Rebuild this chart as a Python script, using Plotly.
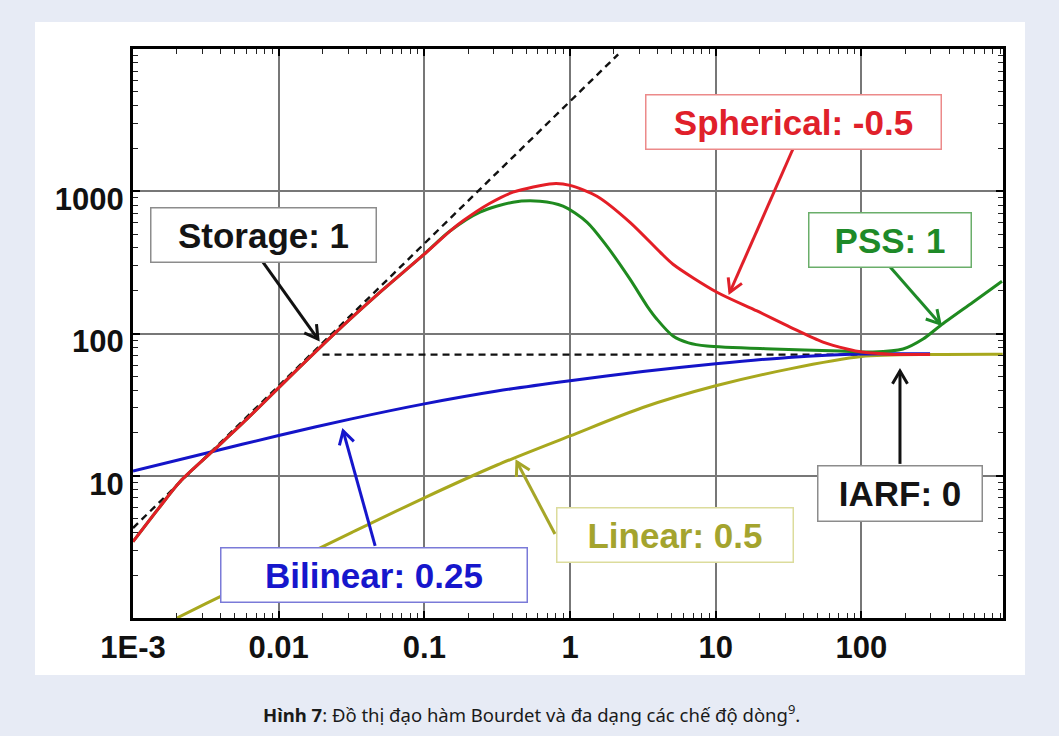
import math
import plotly.graph_objects as go

# Bourdet derivative curves (time, derivative)
spherical_t = [0.001, 0.0015, 0.0021, 0.00355, 0.00607, 0.0125, 0.025, 0.0497, 0.098, 0.15,
               0.1845, 0.28, 0.406, 0.764, 1.0, 1.53, 2.58, 4.15, 5.09, 10.2, 19.2, 32.4, 54.5,
               79.6, 101, 165, 296]
spherical_d = [3.44, 5.9, 9.08, 15.0, 25.1, 52, 103, 195, 355, 525,
               620, 820, 985, 1130, 1100, 923, 605, 373, 307, 195, 144, 111, 87,
               77.8, 74, 71.3, 71.3]

pss_t = [0.001, 0.0015, 0.0021, 0.00355, 0.00607, 0.0125, 0.025, 0.0497, 0.098, 0.15, 0.241,
         0.406, 0.622, 0.895, 1.31, 1.79, 2.58, 3.38, 3.95, 5.09, 6.5, 8.71, 24.7, 71.3, 120,
         193, 265, 346, 583, 923]
pss_d = [3.44, 5.9, 9.08, 15.0, 25.1, 52, 103, 195, 355, 525, 713,
         838, 851, 785, 605, 411, 241, 156, 126, 96, 86, 81.7, 77.8, 75.3, 74.1,
         77.8, 91.5, 113, 166, 233]

bilinear_t = [0.001, 0.00316, 0.01, 0.0316, 0.1, 0.316, 1.0, 3.16, 10, 31.6, 100, 296]
bilinear_d = [10.8, 14.4, 19.2, 25.1, 32.0, 39.4, 46.5, 54.0, 61.2, 67.9, 71.9, 72]

linear_t = [0.002, 0.00316, 0.01, 0.0316, 0.1, 0.316, 1.0, 3.16, 10, 31.6, 100, 316, 933]
linear_d = [1.0, 1.26, 2.24, 3.98, 7.0, 11.9, 19.05, 30.2, 42.9, 56.2, 68.9, 71.3, 71.6]

# Reference straight lines: unit-slope storage and IARF plateau
storage_t = [0.001, 2.14]
storage_d = [4.29, 9170]
iarf_t = [0.02, 300]
iarf_d = [71, 71]

x_tickvals = [0.001, 0.01, 0.1, 1, 10, 100]
x_ticktext = ["1E-3", "0.01", "0.1", "1", "10", "100"]
y_tickvals = [10, 100, 1000]
y_ticktext = ["10", "100", "1000"]

# Flow-regime labels: text, text colour, box border, arrow colour,
# box centre (px), box size (px), arrow head (t, d), arrow tail offset (px)
regimes = [
    ("Storage: 1", "#141414", "#8c8c8c", "#111111", (263.5, 235), (227, 56), (0.0186, 91.4), (-55, -77)),
    ("Spherical: -0.5", "#e0202a", "#ec8a8a", "#e0202a", (793.5, 122), (297, 56), (12.5, 195), (63, -143)),
    ("PSS: 1", "#1e8a28", "#6aae6a", "#1e8a28", (890, 240), (164, 56), (346, 117), (-50, -57)),
    ("Bilinear: 0.25", "#1616cc", "#7a7ad8", "#1616cc", (374, 575), (308, 56), (0.0277, 20.7), (32, 115)),
    ("Linear: 0.5", "#a4a42e", "#dcdc9c", "#a6a628", (675, 535), (238, 56), (0.432, 12.5), (38, 72)),
    ("IARF: 0", "#141414", "#8c8c8c", "#111111", (900, 493.5), (166, 57), (184, 54.6), (0, 93)),
]

W, H = 1059, 736
L, R, T, B = 133, 56, 49, 118
PW, PH = W - L - R, H - T - B
X_RANGE = [-3, 2.972]
Y_RANGE = [0, 4]


def px_to_paper(px, py):
    return (px - L) / PW, (H - B - py) / PH


def data_to_px(t, d):
    px = L + (math.log10(t) - X_RANGE[0]) / (X_RANGE[1] - X_RANGE[0]) * PW
    py = T + (Y_RANGE[1] - math.log10(d)) / (Y_RANGE[1] - Y_RANGE[0]) * PH
    return px, py


fig = go.Figure()

line_w = 3
dash_style = dict(color="#111111", width=2.4, dash="7px,5px")
fig.add_trace(go.Scatter(x=storage_t, y=storage_d, mode="lines", line=dash_style))
fig.add_trace(go.Scatter(x=iarf_t, y=iarf_d, mode="lines", line=dash_style))
fig.add_trace(go.Scatter(x=linear_t, y=linear_d, mode="lines",
                         line=dict(color="#a8a81e", width=line_w, shape="spline", smoothing=0.8)))
fig.add_trace(go.Scatter(x=bilinear_t, y=bilinear_d, mode="lines",
                         line=dict(color="#1414c8", width=line_w, shape="spline", smoothing=0.8)))
fig.add_trace(go.Scatter(x=pss_t, y=pss_d, mode="lines",
                         line=dict(color="#1f8a1f", width=line_w, shape="spline", smoothing=0.8)))
fig.add_trace(go.Scatter(x=spherical_t, y=spherical_d, mode="lines",
                         line=dict(color="#e41e26", width=line_w, shape="spline", smoothing=0.8)))

shapes = []
x0, y0 = px_to_paper(35, 22)
x1, y1 = px_to_paper(1025, 675)
shapes.append(dict(type="rect", xref="paper", yref="paper", x0=x0, x1=x1, y0=y1, y1=y0,
                   fillcolor="white", line=dict(width=0), layer="below"))

# Arrows: straight shaft plus an open V head
head_len, head_ang = 15, math.radians(30)
for (_, _, _, acol, _, _, (ht, hd), (ax, ay)) in regimes:
    hx, hy = data_to_px(ht, hd)
    tx, ty = hx + ax, hy + ay
    dl = math.hypot(hx - tx, hy - ty)
    ux, uy = (hx - tx) / dl, (hy - ty) / dl
    arms = []
    for s in (1, -1):
        ca, sa = math.cos(s * head_ang), math.sin(s * head_ang)
        rx, ry = ux * ca - uy * sa, ux * sa + uy * ca
        arms.append((hx - head_len * rx, hy - head_len * ry))
    p_t = px_to_paper(tx, ty)
    p_h = px_to_paper(hx, hy)
    shapes.append(dict(type="line", xref="paper", yref="paper", x0=p_t[0], y0=p_t[1],
                       x1=p_h[0], y1=p_h[1], line=dict(color=acol, width=3)))
    a1 = px_to_paper(*arms[0])
    a2 = px_to_paper(*arms[1])
    path = f"M {a1[0]:.5f} {a1[1]:.5f} L {p_h[0]:.5f} {p_h[1]:.5f} L {a2[0]:.5f} {a2[1]:.5f}"
    shapes.append(dict(type="path", xref="paper", yref="paper", path=path,
                       line=dict(color=acol, width=3)))

annotations = []
for (text, tcol, bcol, _, (cx, cy), (bw, bh), _, _) in regimes:
    u, v = px_to_paper(cx, cy)
    annotations.append(dict(
        x=u, y=v, xref="paper", yref="paper", xanchor="center", yanchor="middle",
        text=text, showarrow=False, width=bw - 3, height=bh - 3, borderpad=0,
        bgcolor="white", bordercolor=bcol, borderwidth=1.5,
        font=dict(family="Liberation Sans", size=35, color=tcol, weight="bold")))

cu, cv = px_to_paper(531, 713)
annotations.append(dict(
    x=cu, y=cv, xref="paper", yref="paper", xanchor="center", yanchor="middle",
    showarrow=False,
    text="<b>Hình 7</b>: Đồ thị đạo hàm Bourdet và đa dạng các chế độ dòng<sup>9</sup>.",
    font=dict(family="Noto Sans", size=18.5, color="#1a1a1a")))

minor_x = [m * 10.0 ** e for e in range(-3, 3) for m in range(2, 10)]
minor_y = [m * 10.0 ** e for e in range(0, 4) for m in range(2, 10)]

tick_font = dict(family="Liberation Sans", size=31, color="#111111", weight="bold")
axis_common = dict(type="log", tickmode="array", tickfont=tick_font, showline=True,
                   linecolor="black", linewidth=3, mirror="allticks", ticks="inside",
                   ticklen=7, tickwidth=1.5, tickcolor="black", showgrid=True,
                   gridcolor="#777777", gridwidth=1.5, zeroline=False)
fig.update_layout(
    width=W, height=H, margin=dict(l=L, r=R, t=T, b=B),
    paper_bgcolor="#e7ebf5", plot_bgcolor="white", showlegend=False,
    annotations=annotations, shapes=shapes,
    xaxis=dict(range=X_RANGE, tickvals=x_tickvals, ticktext=x_ticktext,
               minor=dict(tickmode="array", tickvals=minor_x, ticks="inside", ticklen=5,
                          tickwidth=1.2, tickcolor="#222222", showgrid=False),
               **axis_common),
    yaxis=dict(range=Y_RANGE, tickvals=y_tickvals, ticktext=y_ticktext, ticklabelshift=8,
               minor=dict(tickmode="array", tickvals=minor_y, ticks="inside", ticklen=5,
                          tickwidth=1.2, tickcolor="#222222", showgrid=False),
               **axis_common),
)

fig.write_html("out.html")
